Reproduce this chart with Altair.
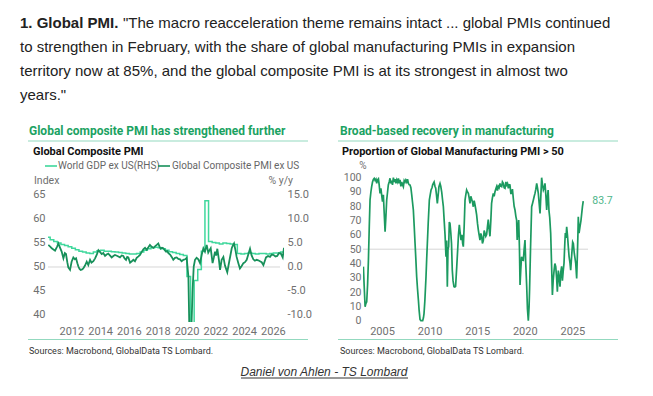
import altair as alt
import pandas as pd

# ---------------- data ----------------
pmi_year = [2010.40, 2010.55, 2010.64, 2010.87, 2011.02, 2011.10, 2011.22, 2011.33, 2011.45, 2011.55,
            2011.63, 2011.72, 2011.79, 2011.91, 2012.02, 2012.14, 2012.25, 2012.33, 2012.42, 2012.49,
            2012.57, 2012.65, 2012.75, 2012.83, 2012.95, 2013.07, 2013.18, 2013.30, 2013.40, 2013.53,
            2013.65, 2013.76, 2013.88, 2014.00, 2014.11, 2014.22, 2014.34, 2014.45, 2014.57, 2014.68,
            2014.80, 2014.92, 2015.03, 2015.20, 2015.38, 2015.50, 2015.61, 2015.70, 2015.80, 2015.88,
            2015.96, 2016.08, 2016.20, 2016.31, 2016.42, 2016.54, 2016.66, 2016.77, 2016.88, 2017.00,
            2017.12, 2017.23, 2017.35, 2017.46, 2017.58, 2017.70, 2017.81, 2017.93, 2018.04, 2018.12,
            2018.20, 2018.30, 2018.39, 2018.49, 2018.58, 2018.66, 2018.74, 2018.86, 2018.97, 2019.08,
            2019.20, 2019.32, 2019.43, 2019.55, 2019.66, 2019.78, 2019.90, 2020.01, 2020.13, 2020.24,
            2020.33, 2020.42, 2020.50, 2020.59, 2020.70, 2020.82, 2020.94, 2021.05, 2021.17, 2021.28,
            2021.40, 2021.51, 2021.60, 2021.68, 2021.81, 2021.90, 2021.98, 2022.06, 2022.14, 2022.25,
            2022.33, 2022.44, 2022.56, 2022.67, 2022.75, 2022.83, 2022.97, 2023.06, 2023.14, 2023.22,
            2023.30, 2023.40, 2023.48, 2023.60, 2023.71, 2023.83, 2023.95, 2024.06, 2024.18, 2024.30,
            2024.41, 2024.52, 2024.64, 2024.75, 2024.87, 2024.98, 2025.10, 2025.22, 2025.34, 2025.43,
            2025.52, 2025.66, 2025.80, 2025.92, 2026.05, 2026.18, 2026.30, 2026.42, 2026.55, 2026.68,
            2026.77]
pmi_value = [54.6, 54.2, 53.9, 53.4, 54.3, 54.9, 54.0, 53.2, 51.8, 52.9,
             52.7, 51.0, 49.9, 49.4, 51.1, 52.0, 51.6, 51.8, 50.8, 50.1,
             49.6, 49.4, 49.5, 49.7, 50.3, 51.1, 50.4, 51.5, 50.9, 51.2,
             51.8, 52.5, 53.5, 53.1, 52.7, 52.9, 52.3, 52.6, 52.8, 52.4,
             52.0, 52.3, 52.5, 52.3, 52.0, 52.4, 52.3, 51.8, 51.5, 52.1,
             52.0, 50.9, 51.2, 51.5, 51.2, 51.9, 52.2, 52.5, 53.1, 53.7,
             54.0, 53.6, 54.1, 54.6, 54.2, 54.0, 54.3, 54.6, 54.9, 54.3,
             53.8, 54.0, 53.9, 53.5, 53.2, 53.3, 52.9, 52.6, 52.1, 51.5,
             51.9, 52.0, 51.7, 51.6, 51.2, 51.5, 51.6, 51.9, 48.0, 30.0,
             36.5, 45.0, 50.1, 51.5, 51.9, 51.6, 50.8, 52.5, 53.9, 53.2,
             54.6, 53.0, 53.5, 53.9, 50.8, 52.0, 53.2, 52.4, 53.8, 51.5,
             49.4, 51.5, 52.1, 50.3, 49.6, 48.9, 51.2, 52.6, 53.9, 54.5,
             54.9, 53.5, 52.1, 50.8, 49.7, 50.2, 50.8, 51.0, 51.5, 52.7,
             53.8, 52.4, 51.6, 51.3, 51.5, 51.4, 51.2, 51.0, 50.4, 51.2,
             52.0, 52.3, 52.1, 52.6, 52.5, 52.2, 52.3, 52.9, 52.8, 52.0,
             54.0]

gdp_year = [2010.28, 2010.53, 2010.78, 2011.03, 2011.28, 2011.53, 2011.78, 2012.03, 2012.28, 2012.53,
            2012.78, 2013.03, 2013.28, 2013.53, 2013.78, 2014.03, 2014.28, 2014.53, 2014.78, 2015.03,
            2015.28, 2015.53, 2015.78, 2016.03, 2016.28, 2016.53, 2016.78, 2017.03, 2017.28, 2017.53,
            2017.78, 2018.03, 2018.28, 2018.53, 2018.78, 2019.03, 2019.28, 2019.53, 2019.78, 2020.03,
            2020.28, 2020.53, 2020.78, 2021.03, 2021.28, 2021.53, 2021.78, 2022.03, 2022.28, 2022.53,
            2022.78, 2023.03, 2023.28, 2023.53, 2023.78, 2024.03, 2024.28, 2024.53, 2024.78, 2025.03,
            2025.28, 2025.53, 2025.78, 2026.03, 2026.28, 2026.53, 2026.78]
gdp_value = [6.2, 5.7, 5.3, 5.0, 4.7, 4.5, 4.2, 3.9, 3.6, 3.3,
             3.1, 2.9, 2.8, 3.1, 3.4, 3.5, 3.3, 3.3, 3.2, 3.1,
             3.0, 2.9, 2.8, 2.7, 2.7, 2.8, 3.1, 3.5, 3.8, 4.0,
             4.1, 4.0, 3.8, 3.5, 3.2, 3.0, 2.8, 2.6, 2.4, -2.0,
             -12.5, -2.8, -0.5, 3.3, 13.8, 5.3, 5.1, 5.0, 4.8, 5.0,
             4.9, 4.8, 4.7, 2.8, 2.7, 2.8, 2.9, 2.8, 2.7, 2.8,
             2.8, 2.7, 2.8, 2.9, 2.9, 3.1, 3.1]

mfg_year = [2003.04, 2003.12, 2003.22, 2003.30, 2003.39, 2003.48, 2003.57, 2003.66, 2003.74, 2003.83,
            2003.91, 2004.00, 2004.09, 2004.18, 2004.27, 2004.36, 2004.44, 2004.53, 2004.62, 2004.70,
            2004.79, 2004.88, 2004.96, 2005.05, 2005.14, 2005.23, 2005.32, 2005.40, 2005.49, 2005.58,
            2005.66, 2005.75, 2005.84, 2005.93, 2006.01, 2006.10, 2006.19, 2006.28, 2006.37, 2006.46,
            2006.55, 2006.64, 2006.72, 2006.81, 2006.89, 2006.98, 2007.07, 2007.16, 2007.24, 2007.33,
            2007.42, 2007.50, 2007.59, 2007.68, 2007.77, 2007.86, 2007.94, 2008.03, 2008.12, 2008.20,
            2008.29, 2008.38, 2008.47, 2008.56, 2008.64, 2008.73, 2008.82, 2008.90, 2008.99, 2009.08,
            2009.18, 2009.27, 2009.35, 2009.41, 2009.50, 2009.62, 2009.69, 2009.76, 2009.85, 2009.97,
            2010.06, 2010.15, 2010.25, 2010.32, 2010.39, 2010.47, 2010.56, 2010.64, 2010.72, 2010.81,
            2010.90, 2010.98, 2011.09, 2011.17, 2011.27, 2011.36, 2011.44, 2011.53, 2011.62, 2011.72,
            2011.79, 2011.86, 2011.93, 2012.00, 2012.07, 2012.14, 2012.22, 2012.30, 2012.38, 2012.46,
            2012.56, 2012.65, 2012.73, 2012.85, 2012.95, 2013.03, 2013.12, 2013.20, 2013.30, 2013.40,
            2013.47, 2013.54, 2013.63, 2013.72, 2013.80, 2013.89, 2013.98, 2014.07, 2014.15, 2014.24,
            2014.33, 2014.42, 2014.50, 2014.59, 2014.68, 2014.77, 2014.86, 2014.94, 2015.03, 2015.12,
            2015.20, 2015.29, 2015.38, 2015.47, 2015.55, 2015.64, 2015.73, 2015.82, 2015.90, 2015.99,
            2016.08, 2016.16, 2016.25, 2016.34, 2016.43, 2016.51, 2016.60, 2016.69, 2016.78, 2016.86,
            2016.95, 2017.04, 2017.13, 2017.21, 2017.30, 2017.39, 2017.48, 2017.57, 2017.65, 2017.74,
            2017.83, 2017.92, 2018.01, 2018.09, 2018.18, 2018.27, 2018.36, 2018.44, 2018.53, 2018.61,
            2018.70, 2018.79, 2018.88, 2018.97, 2019.06, 2019.14, 2019.20, 2019.28, 2019.36, 2019.44,
            2019.50, 2019.58, 2019.66, 2019.75, 2019.85, 2019.93, 2020.02, 2020.10, 2020.20, 2020.28,
            2020.37, 2020.45, 2020.50, 2020.60, 2020.72, 2020.81, 2020.90, 2020.99, 2021.07, 2021.16,
            2021.25, 2021.33, 2021.42, 2021.51, 2021.60, 2021.69, 2021.77, 2021.86, 2021.95, 2022.04,
            2022.12, 2022.21, 2022.30, 2022.37, 2022.45, 2022.54, 2022.62, 2022.72, 2022.81, 2022.90,
            2022.98, 2023.08, 2023.16, 2023.25, 2023.34, 2023.42, 2023.52, 2023.60, 2023.70, 2023.78,
            2023.87, 2023.95, 2024.04, 2024.12, 2024.21, 2024.26, 2024.33, 2024.40, 2024.48, 2024.57,
            2024.65, 2024.75, 2024.82, 2024.93, 2025.03, 2025.10, 2025.20, 2025.27, 2025.35, 2025.45,
            2025.52, 2025.58, 2025.62, 2025.70, 2025.80, 2025.90, 2025.98, 2026.06, 2026.14]
mfg_value = [37.8, 25, 9.8, 12, 13.3, 25, 42.4, 66, 84.4, 90,
             93.7, 97, 98.8, 99.5, 98.2, 99, 96, 98.5, 99.2, 95,
             89, 92.6, 88, 83.2, 88, 75, 62.2, 72, 84.4, 90,
             94.9, 97, 99.6, 96, 98, 95, 100, 97, 99, 96,
             98.5, 97, 99.5, 96, 98.4, 94, 97, 95, 93.7, 98,
             97, 98.4, 97, 99, 96, 95, 94.9, 93, 88, 83,
             77.4, 66, 54, 42, 30.7, 22, 14.5, 7, 0.9, 0,
             0, 0, 2, 5, 14, 30.7, 43, 54, 68, 84.4,
             88, 91.4, 93, 95, 96, 97, 94, 92.6, 88, 82,
             88, 93.7, 96, 94, 90, 84.4, 80, 70, 60, 44.7,
             56, 23.8, 50, 51.8, 69, 68, 62, 54, 35.4, 28,
             23.8, 23.5, 24, 37.8, 50, 60, 67, 62, 56.4, 60,
             54, 51.8, 66, 84.4, 88, 91.4, 90, 89, 86, 82,
             87, 85, 83, 79.7, 84, 81, 77.4, 74, 68, 63.4,
             60, 56.4, 61, 59, 54, 56, 63, 61, 59, 60.3,
             66, 70.7, 64, 59, 70, 82, 86, 89, 87, 90,
             92, 93.7, 91, 94, 93, 96, 94, 93.7, 97, 96,
             93, 92.6, 97, 94.9, 96, 92.6, 95, 94.9, 89, 89,
             92, 85.6, 80, 77.4, 73, 70.4, 56.4, 65, 70.4, 50,
             25, 36, 44.7, 43, 42.4, 50, 56.4, 40, 23.8, 8,
             0, 10, 21.4, 50, 79.7, 82, 84.4, 87, 89, 92,
             96, 93, 89, 82, 75, 88, 100, 95, 91.4, 93,
             96, 88, 77.4, 85, 91.4, 77, 72, 61, 40, 18,
             28, 35.4, 40, 37.8, 30, 20.3, 35, 31, 23.8, 34,
             38, 28, 35, 40.3, 55, 61.3, 58, 65.7, 60, 51.8,
             45, 40.3, 35.4, 46, 55, 54, 47, 44, 40, 29.6,
             45, 60, 72.7, 61.3, 65.7, 70, 75, 80, 83.7]

left_years = [2012, 2014, 2016, 2018, 2020, 2022, 2024, 2026]
right_years = [2005, 2010, 2015, 2020, 2025]
lhs_ticks = [40, 45, 50, 55, 60, 65]
rhs_ticks = [-10, -5, 0, 5, 10, 15]
pct_ticks = [0, 10, 20, 30, 40, 50, 60, 70, 80, 90, 100]

para_bold = "1. Global PMI."
para_lines = [
    '"The macro reacceleration theme remains intact ... global PMIs continued',
    "to strengthen in February, with the share of global manufacturing PMIs in expansion",
    "territory now at 85%, and the global composite PMI is at its strongest in almost two",
    'years."',
]
left_title = "Global composite PMI has strengthened further"
right_title = "Broad-based recovery in manufacturing"
left_sub = "Global Composite PMI"
right_sub = "Proportion of Global Manufacturing PMI > 50"
legend_labels = ["World GDP ex US(RHS)", "Global Composite PMI ex US"]
source_text = "Sources: Macrobond, GlobalData TS Lombard."
credit_text = "Daniel von Ahlen - TS Lombard"

# ---------------- style ----------------
DARK = "#17905a"
LIGHT = "#3fd89c"
TITLE_G = "#1ba262"
RULE_G = "#93d9bf"
AX = "#707070"
FONT = "Roboto"
PFONT = "Liberation Sans"
PSIZE = 15

LW, LH = 236, 154      # left plot
RW, RH = 225, 154      # right plot

pmi_df = pd.DataFrame({"year": pmi_year, "pmi": pmi_value})
gdp_df = pd.DataFrame({"year": gdp_year, "gdp": gdp_value})
mfg_df = pd.DataFrame({"year": mfg_year, "share": mfg_value})


def txt(s, x, y, size=11, color="#333", weight="normal", font=FONT, align="left",
        baseline="middle", style="normal"):
    return alt.Chart(pd.DataFrame({"t": [s]})).mark_text(
        align=align, baseline=baseline, fontSize=size, font=font, fontWeight=weight,
        fontStyle=style, color=color
    ).encode(text="t:N", x=alt.value(x), y=alt.value(y))


def hline(x1, x2, y, color, width=1.0):
    return alt.Chart(pd.DataFrame({"a": [0]})).mark_rule(color=color, strokeWidth=width).encode(
        x=alt.value(x1), x2=alt.value(x2), y=alt.value(y))


LX0, LY0 = 48, 168   # page position of left plot origin
RX0, RY0 = 363, 168

# invisible frame fixing the page layout
frame = alt.Chart(pd.DataFrame({"a": [0]})).mark_rect(opacity=0).encode(
    x=alt.value(8 - LX0), x2=alt.value(644 - LX0), y=alt.value(8 - LY0), y2=alt.value(382 - LY0))

xl = alt.X("year:Q", scale=alt.Scale(domain=[2010.38, 2026.77], nice=False, zero=False),
           axis=alt.Axis(values=left_years, format="d", title=None, labelPadding=3,
                         labelOverlap=False))

ref_l = alt.Chart(pd.DataFrame({"v": [50]})).mark_rule(color="#d6d6d6", strokeWidth=1).encode(
    y=alt.Y("v:Q", scale=alt.Scale(domain=[38.54, 70.625], nice=False, zero=False), axis=None),
    x=alt.value(0), x2=alt.value(LW - 4))

gdp_line = alt.Chart(gdp_df).mark_line(color=LIGHT, strokeWidth=1.5, interpolate="step-after",
                                       clip=True).encode(
    x=xl,
    y=alt.Y("gdp:Q", scale=alt.Scale(domain=[-11.46, 20.625], nice=False, zero=False),
            axis=alt.Axis(orient="right", values=rhs_ticks, title=None, labelPadding=3,
                          labelOverlap=False,
                          labelExpr="(datum.value < 0 ? '-' : '') + format(abs(datum.value), '.1f')")))

pmi_line = alt.Chart(pmi_df).mark_line(color=DARK, strokeWidth=1.8, clip=True).encode(
    x=xl,
    y=alt.Y("pmi:Q", scale=alt.Scale(domain=[38.54, 70.625], nice=False, zero=False),
            axis=alt.Axis(orient="left", values=lhs_ticks, title=None, labelPadding=3,
                          labelOverlap=False)))

para = [txt(para_bold, 20 - LX0, 23 - LY0, size=PSIZE, color="#222", weight="bold", font=PFONT)]
para.append(txt(para_lines[0], 20 - LX0 + 103, 23 - LY0, size=PSIZE, color="#222", font=PFONT))
for i, line in enumerate(para_lines[1:]):
    para.append(txt(line, 20 - LX0, 47 + 24 * i - LY0, size=PSIZE, color="#222", font=PFONT))

left_deco = [
    txt(left_title, 29 - LX0, 131 - LY0, size=12, color=TITLE_G, weight="bold"),
    hline(28 - LX0, 308 - LX0, 141 - LY0, RULE_G, 1.2),
    txt(left_sub, 33 - LX0, 152 - LY0, size=11, color="#111", weight="bold"),
    hline(45 - LX0, 57 - LX0, 166 - LY0, LIGHT, 1.6),
    txt(legend_labels[0], 58 - LX0, 166 - LY0, size=10, color="#666"),
    hline(158 - LX0, 170 - LX0, 166 - LY0, DARK, 1.6),
    txt(legend_labels[1], 172 - LX0, 166 - LY0, size=10, color="#666"),
    txt("Index", 34 - LX0, 181 - LY0, size=10.5, color=AX),
    txt("% y/y", 293 - LX0, 181 - LY0, size=10.5, color=AX, align="right"),
    hline(28 - LX0, 308 - LX0, 339.5 - LY0, RULE_G, 1.2),
    txt(source_text, 29 - LX0, 351 - LY0, size=9, color="#333"),
    txt(credit_text, 324 - LX0, 372 - LY0, size=12, color="#333", font=PFONT, style="italic",
        align="center"),
    hline(241 - LX0, 408 - LX0, 378 - LY0, "#333", 1),
]

left = alt.layer(frame, *para, *left_deco, ref_l, gdp_line, pmi_line).resolve_scale(
    y="independent").properties(width=LW, height=LH)

# ---------------- right panel ----------------
xr = alt.X("year:Q", scale=alt.Scale(domain=[2003.0, 2026.64], nice=False, zero=False),
           axis=alt.Axis(values=right_years, format="d", title=None, labelPadding=3,
                         labelOverlap=False))
yr_scale = alt.Scale(domain=[-0.91, 106.78], nice=False, zero=False)
yr_axis = alt.Axis(values=pct_ticks, title=None, labelPadding=2, labelOverlap=False,
                   labelFontSize=10.5)

ref_r = alt.Chart(pd.DataFrame({"v": [50]})).mark_rule(color="#d6d6d6", strokeWidth=1).encode(
    y=alt.Y("v:Q", scale=yr_scale, axis=yr_axis), x=alt.value(0), x2=alt.value(RW))

mfg_line = alt.Chart(mfg_df).mark_line(color="#1c9a60", strokeWidth=1.7, clip=True).encode(
    x=xr, y=alt.Y("share:Q", scale=yr_scale, axis=yr_axis))

end_label = alt.Chart(mfg_df.tail(1)).mark_text(
    align="left", baseline="middle", dx=9, fontSize=10.5, font=FONT, color="#4db58a"
).encode(x=xr, y=alt.Y("share:Q", scale=yr_scale, axis=yr_axis),
         text=alt.Text("share:Q", format=".1f"))

right_deco = [
    txt(right_title, 340 - RX0, 131 - RY0, size=12, color=TITLE_G, weight="bold"),
    hline(338 - RX0, 618 - RX0, 141 - RY0, RULE_G, 1.2),
    txt(right_sub, 342 - RX0, 152 - RY0, size=11, color="#111", weight="bold"),
    txt("%", 363 - RX0, 166 - RY0, size=10, color=AX, align="center"),
    hline(338 - RX0, 618 - RX0, 339.5 - RY0, RULE_G, 1.2),
    txt(source_text, 340 - RX0, 351 - RY0, size=9, color="#333"),
]

right = alt.layer(*right_deco, ref_r, mfg_line, end_label).properties(width=RW, height=RH)

chart = alt.hconcat(left, right, spacing=RX0 - (LX0 + LW), bounds="flush").properties(
    padding=0
).configure_view(stroke=None).configure_axis(
    domain=False, ticks=False, grid=False, labelColor=AX, labelFont=FONT, labelFontSize=11,
    labelOverlap=False
)

chart.save("out.html", embed_options={"renderer": "svg", "actions": False})
